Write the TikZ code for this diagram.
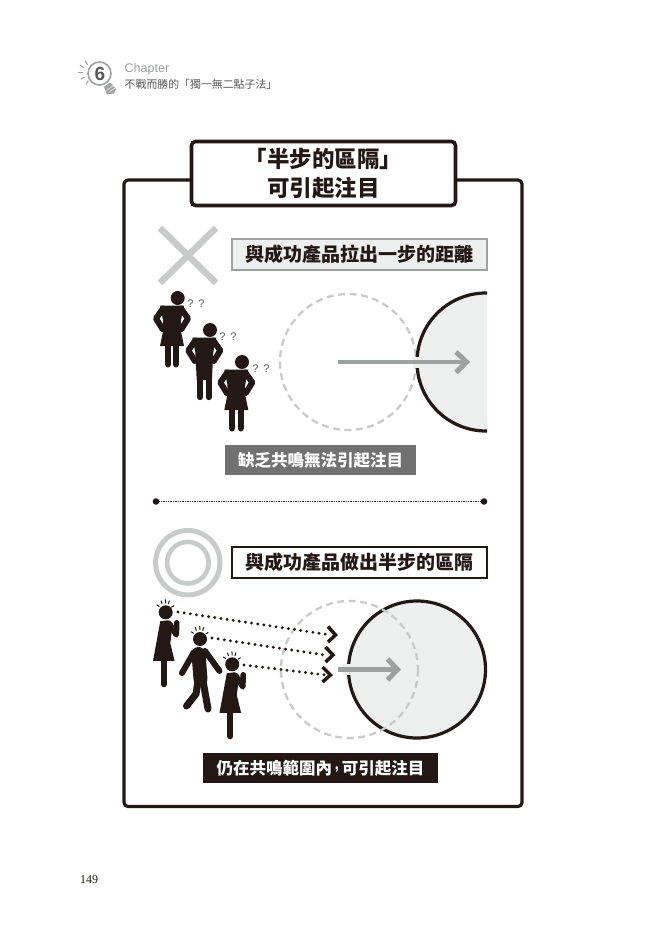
\documentclass[tikz,border=0pt]{standalone}
\usepackage{fontspec}
\setmainfont{Noto Sans CJK TC}
\newfontfamily\sansf{Liberation Sans}
\newfontfamily\serif{Liberation Serif}
\definecolor{ink}{HTML}{231815}
\definecolor{midgray}{HTML}{9FA0A0}
\definecolor{lightg}{HTML}{C9CACA}
\definecolor{fillg}{HTML}{EEEFEF}
\definecolor{darkg}{HTML}{595757}
\definecolor{bandg}{HTML}{727171}
\tikzset{
  x=1pt,y=-1pt,
  frame/.style={draw=ink,line width=3.2pt,rounded corners=4pt},
  subtitle/.style={line width=1.5pt,minimum width=255pt,minimum height=31pt,font=\bfseries\fontsize{19}{21}\selectfont,inner sep=0pt,text=ink},
  band/.style={text=white,font=\bfseries\fontsize{16.5}{18}\selectfont,inner sep=0pt},
  dashcircle/.style={draw=lightg,line width=2.3pt,dash pattern=on 7pt off 4.5pt},
  solidcircle/.style={draw=ink,line width=3.2pt,fill=fillg},
  halo/.style={draw=fillg,line width=11pt},
  grayarrow/.style={draw=midgray,line width=4.4pt},
  graytip/.style={draw=midgray,line width=5pt,line join=miter},
  dotline/.style={draw=ink,line width=3.2pt,line cap=round,dash pattern=on 0pt off 6.2pt},
  inktip/.style={draw=ink,line width=3.5pt,line join=miter},
  qmark/.style={font=\sansf\fontsize{11}{11}\selectfont,text=darkg,inner sep=0pt},
  spark/.style={draw=ink,line width=1pt},
  limb/.style={draw=ink,line width=6pt,line cap=round,line join=round},
  ray/.style={draw=midgray,line width=1pt},
  crossbar/.style={draw=lightg,line width=6.5pt},
}
\newcommand{\figtop}{%
  \fill[ink] (5.7,0) circle (7);
  \draw[limb] (-9,10.5) -- (-16,20.5) -- (-9.5,31);
  \draw[limb] (9,10.5) -- (16,20.5) -- (9.5,31);
}
\newcommand{\womanhips}[2]{%
  \begin{scope}[shift={(#1,#2)}]
    \figtop
    \fill[ink] (-12,7.5) -- (12,7.5) -- (9,22) -- (8.5,31) -- (12,48) -- (-12,48) -- (-8.5,31) -- (-9,22) -- cycle;
    \draw[limb] (-4.2,46) -- (-4.2,66.5);
    \draw[limb] (4.2,46) -- (4.2,66.5);
  \end{scope}
}
\newcommand{\manhips}[2]{%
  \begin{scope}[shift={(#1,#2)}]
    \figtop
    \fill[ink] (-12,7.5) -- (12,7.5) -- (9,22) -- (7.6,50) -- (-7.6,50) -- (-9,22) -- cycle;
    \draw[limb,line width=6.4pt] (-4.4,46) -- (-4.4,67);
    \draw[limb,line width=6.4pt] (4.4,46) -- (4.4,67);
  \end{scope}
}
\newcommand{\sparks}{%
  \draw[spark] (-9,-7.3) -- (-6.3,-5.7);
  \draw[spark] (-4.7,-11.7) -- (-3.7,-8.3);
  \draw[spark] (-.3,-13) -- (0,-9);
  \draw[spark] (3.7,-11.7) -- (2.7,-8.3);
  \draw[spark] (8.3,-6.7) -- (5.7,-5);
}
\newcommand{\womanhand}[2]{%
  \begin{scope}[shift={(#1,#2)}]
    \fill[ink] (1.9,0) circle (7);
    \begin{scope}[shift={(1.9,0)}]\sparks\end{scope}
    \fill[ink] (-3.5,9) -- (4,8) -- (9,11) -- (6.5,31) -- (10.8,48.6) -- (-10.8,48.6) -- cycle;
    \draw[limb,line width=5.6pt] (5,11) -- (12.5,22.5) -- (12.9,10.5);
    \draw[limb] (0,46) -- (0,72);
  \end{scope}
}
\begin{document}
\begin{tikzpicture}
\useasboundingbox (0,0) rectangle (663,941);
\fill[white] (0,0) rectangle (663,941);

% header
\node[font=\sansf\fontsize{12.5}{13}\selectfont,text=midgray,anchor=west,inner sep=0pt] (chap) at (124.5,69) {Chapter};
\node[font=\fontsize{10.9}{12}\selectfont,text=darkg,anchor=west,inner sep=0pt] (ctitle) at (124.5,84.5) {不戰而勝的「獨一無二點子法」};
\fill[midgray] (104,87) -- (110,82.5) -- (116,89) -- (114,93.5) -- (107,94.5) -- cycle;
\draw[white,line width=.5pt] (106.5,90.5) -- (113.5,85.5);
\draw[white,line width=.5pt] (108.5,92.5) -- (115,88);
\draw[midgray,line width=1.6pt,fill=white] (99.5,73.5) circle (11.5);
\node[font=\sansf\bfseries\fontsize{19}{19}\selectfont,text=darkg,inner sep=0pt] (six) at (100,74) {6};
\draw[ray] (85,60.7) -- (87.7,65);
\draw[ray] (80,65) -- (84,67.7);
\draw[ray] (78.3,72.3) -- (83.3,72.3);
\draw[ray] (80.7,79.3) -- (84.3,77.3);
\draw[ray] (86,84.3) -- (88.3,80.7);

% outer frame and title
\draw[frame] (124,180) rectangle (522,806.5);
\node[draw=ink,fill=white,line width=3.6pt,rounded corners=4pt,minimum width=264pt,minimum height=64pt,inner sep=0pt,align=center,
      font=\bfseries\fontsize{22.5}{29}\selectfont,text=ink] (title) at (323.5,173.5) {「半步的區隔」\\可引起注目};

% upper panel
\draw[crossbar] (160,228) -- (216,283);
\draw[crossbar] (216,228) -- (160,283);
\node[subtitle,draw=midgray,fill=fillg] (sub1) at (359.5,254.5) {與成功產品拉出一步的距離};
\womanhips{172}{298}
\manhips{204.3}{330}
\womanhips{236.3}{362}
\node[qmark] (q1a) at (190.5,303.5) {?};
\node[qmark] (q1b) at (201.5,303.5) {?};
\node[qmark] (q2a) at (222.5,336.5) {?};
\node[qmark] (q2b) at (233.5,336.5) {?};
\node[qmark] (q3a) at (255.5,368.5) {?};
\node[qmark] (q3b) at (266.5,368.5) {?};
\draw[dashcircle] (348,362) circle (68);
\begin{scope}
  \clip (400,285) rectangle (487,440);
  \draw[solidcircle] (486,362) circle (69);
\end{scope}
\draw[halo] (413,362) -- (422,362);
\coordinate (a1s) at (338,362);
\coordinate (a1e) at (466,362);
\draw[grayarrow] (a1s) -- (a1e);
\coordinate (a1t) at (456,352);
\coordinate (a1b) at (456,372.5);
\coordinate (a1p) at (466.5,362);
\draw[graytip] (a1t) -- (a1p) -- (a1b);
\node[fill=bandg,minimum width=191pt,minimum height=30pt,band] (band1) at (320.5,460) {缺乏共鳴無法引起注目};

% divider
\coordinate (dl) at (156,501.5);
\coordinate (dr) at (484,501.5);
\fill[ink] (dl) circle (3.3);
\fill[ink] (dr) circle (3.3);
\draw[ink,line width=1.6pt,dash pattern=on 1.3pt off 1.1pt] (dl) -- (dr);

% lower panel
\draw[draw=lightg,line width=5pt] (187.8,562.7) circle (32.2);
\draw[draw=lightg,line width=4.6pt] (187.8,562.7) circle (20.8);
\node[subtitle,draw=ink,line width=2.2pt,fill=white] (sub2) at (359.5,562.5) {與成功產品做出半步的區隔};

\draw[solidcircle] (417,669.5) circle (68.5);
\draw[dashcircle] (349.5,669.5) circle (68.5);
\draw[halo] (343,669.5) -- (352,669.5);
\coordinate (a2s) at (338,669.5);
\coordinate (a2e) at (397,669.5);
\draw[grayarrow] (a2s) -- (a2e);
\coordinate (a2t) at (387.5,659);
\coordinate (a2b) at (387.5,680);
\coordinate (a2p) at (397.5,669.5);
\draw[graytip] (a2t) -- (a2p) -- (a2b);

\womanhand{163.8}{612.3}
\begin{scope}[shift={(200,639)}]
  \fill[ink] (0,0) circle (7);
  \sparks
  \draw[limb] (-6,13) -- (-18,34);
  \draw[limb] (5,12) -- (19.5,32);
  \draw[ink,line width=14pt,line cap=round] (-1.5,15) -- (0.5,40);
  \draw[limb,line width=7pt] (-2,42) -- (-4,55) -- (-13.5,67);
  \draw[limb,line width=7pt] (3,42) -- (8,70);
\end{scope}
\womanhand{230.3}{664.3}

\coordinate (s1) at (178,612);
\coordinate (e1) at (331,635);
\coordinate (s2) at (212,638);
\coordinate (e2) at (328,655.5);
\coordinate (s3) at (244,665);
\coordinate (e3) at (326,675);
\draw[dotline] (s1) -- (e1);
\draw[dotline] (s2) -- (e2);
\draw[dotline] (s3) -- (e3);
\coordinate (t1a) at (328,626.5);
\coordinate (t1p) at (335.5,635);
\coordinate (t1b) at (328,642);
\coordinate (t2a) at (325.5,647);
\coordinate (t2p) at (333,655);
\coordinate (t2b) at (325.5,662);
\coordinate (t3a) at (322.5,667);
\coordinate (t3p) at (330.5,675);
\coordinate (t3b) at (322.5,682);
\draw[inktip] (t1a) -- (t1p) -- (t1b);
\draw[inktip] (t2a) -- (t2p) -- (t2b);
\draw[inktip] (t3a) -- (t3p) -- (t3b);

\node[fill=ink,minimum width=235pt,minimum height=30pt,band] (band2) at (320.5,768) {仍在共鳴範圍內\hspace{2.5pt}\raisebox{5pt}{\sansf\bfseries,}\hspace{2.5pt}可引起注目};

% page number
\node[font=\serif\fontsize{12}{12}\selectfont,text=ink,anchor=west,inner sep=0pt] (page) at (80,880) {149};
\end{tikzpicture}
\end{document}
